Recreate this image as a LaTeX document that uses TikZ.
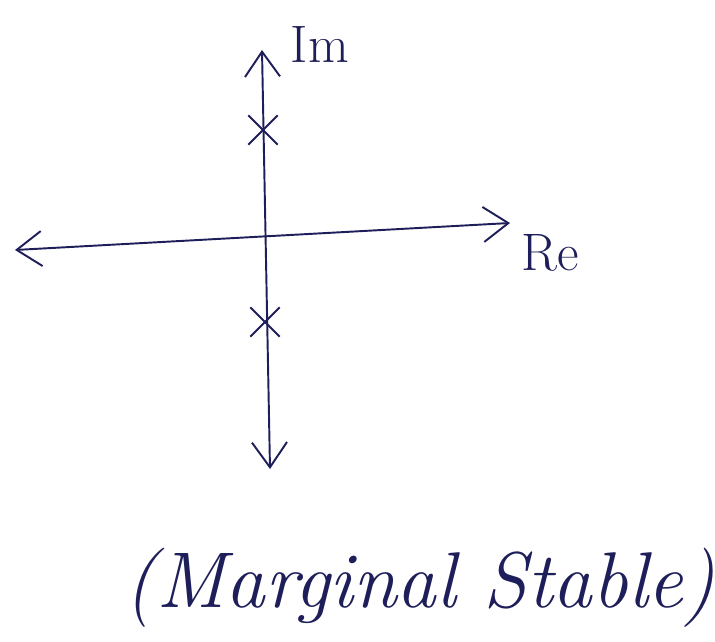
\documentclass[tikz,border=0pt]{standalone}
\usepackage{amsmath,amssymb}
\usepackage{xcolor}
\usepackage{tikz}
\usetikzlibrary{arrows.meta,calc,positioning,shapes.misc}
\definecolor{ink}{RGB}{30,30,90}

\begin{document}
\begin{tikzpicture}[
  axis/.style={ink,line width=1.1pt,arrows={Straight Barb[length=5mm,width=7mm]-Straight Barb[length=5mm,width=7mm]}},
  pole/.style={cross out,draw=ink,line width=1.1pt,minimum size=5.5mm,inner sep=0pt},
  lbl/.style={ink,font=\fontsize{30}{32}\selectfont}
]
\useasboundingbox (-5.24,-8.06) rectangle (9.06,4.76);
\coordinate (imtop) at (0,3.76);
\coordinate (imbot) at (0.16,-4.62);
\coordinate (releft) at (-4.94,-0.24);
\coordinate (reright) at (4.96,0.3);
\draw[axis] (releft)--(reright);
\draw[axis] (imbot)--(imtop);
\node[pole] (p1) at (0.02,2.16){};
\node[pole] (p2) at (0.06,-1.68){};
\node[lbl,right=0.45 of imtop,yshift=1mm] (im){Im};
\node[lbl,below right=0.1 and 0.1 of reright] (re){Re};
\node[ink,font=\fontsize{45}{50}\itshape] (cap) at (3.16,-7.0){(Marginal Stable)};
\end{tikzpicture}
\end{document}
